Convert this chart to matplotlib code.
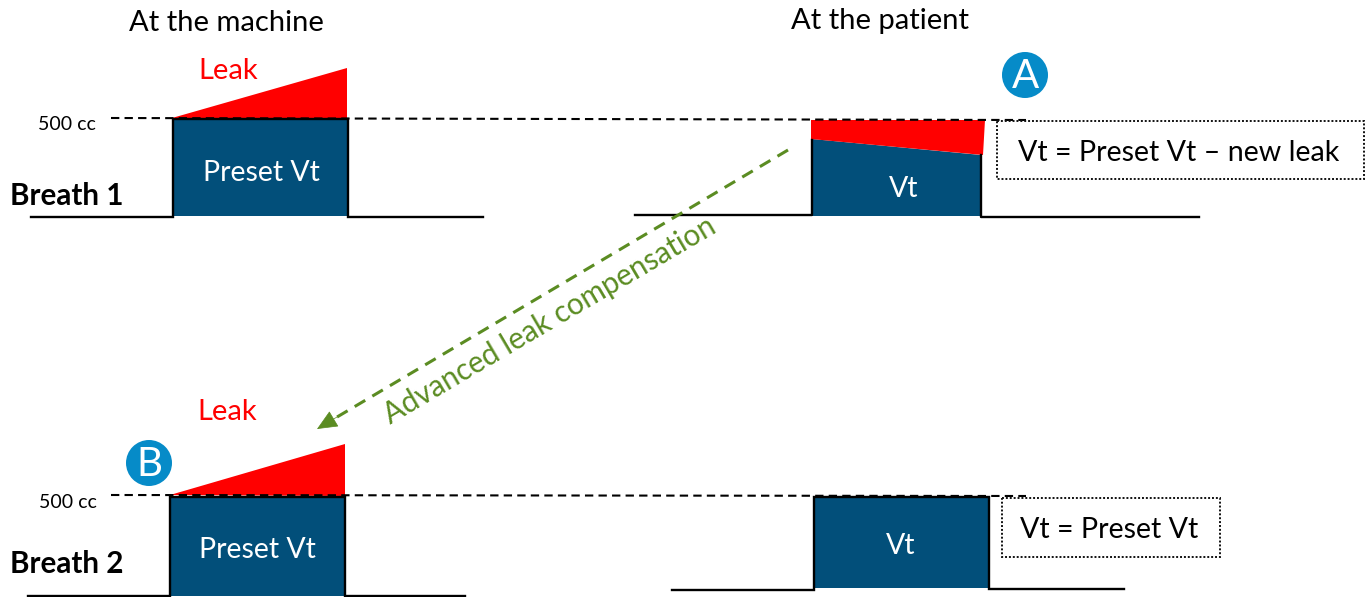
import matplotlib
matplotlib.use("Agg")
import matplotlib.pyplot as plt
from matplotlib.patches import Polygon, Rectangle, Circle

plt.rcParams['font.family'] = ['Lato', 'DejaVu Sans']

BLUE = '#024F7A'
RED = '#FF0000'
GREEN = '#5B8C22'
CIRC = '#068BC8'

# Square waveforms: (x, y) vertices of the baseline/pulse trace
trace_m1_x = [31, 173, 173, 348, 348, 483]
trace_m1_y = [217, 217, 119, 119, 217, 217]
trace_p1_x = [635, 812, 812, 981, 981, 1199]
trace_p1_y = [215, 215, 140, 155, 217, 217]
trace_m2_x = [28, 170, 170, 345, 345, 465]
trace_m2_y = [596, 596, 497, 497, 596, 596]
trace_p2_x = [672, 814, 814, 989, 989, 1124]
trace_p2_y = [590, 590, 497, 497, 589, 589]

# Filled blocks
block_m1 = [(173, 119), (348, 119), (348, 216), (173, 216)]
block_p1 = [(812, 139), (981, 155), (981, 216), (812, 216)]
block_m2 = [(170, 497), (345, 497), (345, 596), (170, 596)]
block_p2 = [(814, 497), (989, 497), (989, 588), (814, 588)]

# Leak wedges
leak_m1 = [(172, 118), (347, 68), (347, 119)]
leak_p1 = [(811, 120), (985, 120), (983, 155), (811, 139)]
leak_m2 = [(170, 495), (345, 444), (345, 496)]

# Dashed reference lines
ref1_x = [111, 1026]
ref1_y = [118, 120]
ref2_x = [111, 1026]
ref2_y = [495, 496]

# Dotted annotation boxes (x, y, w, h)
box_a = (997, 121, 367, 58)
box_b = (1002, 498, 218, 59)

# Compensation arrow: dashed shaft and solid head
shaft_x = [788, 332]
shaft_y = [150, 420]
head_from = (342, 414)
head_to = (317, 429)

fig = plt.figure(figsize=(13.66, 5.97), dpi=100)
ax = fig.add_axes([0, 0, 1, 1])
ax.set_xlim(0, 1366)
ax.set_ylim(597, 0)
ax.axis('off')

for pts in (block_m1, block_p1, block_m2, block_p2):
    ax.add_patch(Polygon(pts, closed=True, fc=BLUE, ec='none', zorder=2))
for pts in (leak_m1, leak_p1, leak_m2):
    ax.add_patch(Polygon(pts, closed=True, fc=RED, ec='none', zorder=3))

for xs, ys in ((trace_m1_x, trace_m1_y), (trace_m2_x, trace_m2_y), (trace_p2_x, trace_p2_y)):
    ax.plot(xs, ys, color='black', lw=1.7, zorder=4, solid_joinstyle='miter')
# patient breath 1: only the baseline and the pulse sides carry a line
ax.plot(trace_p1_x[:3], trace_p1_y[:3], color='black', lw=1.7, zorder=4)
ax.plot(trace_p1_x[3:], trace_p1_y[3:], color='black', lw=1.7, zorder=4)

for xs, ys in ((ref1_x, ref1_y), (ref2_x, ref2_y)):
    ax.plot(xs, ys, color='black', lw=1.5, dashes=(4, 2.5), zorder=5)

for (x, y, w, h) in (box_a, box_b):
    ax.add_patch(Rectangle((x, y), w, h, fc='white', ec='#111111', lw=1.4,
                           ls=(0, (1, 1)), zorder=6))

# Advanced leak compensation arrow
ax.plot(shaft_x, shaft_y, color=GREEN, lw=2.2, dashes=(4, 2.7), zorder=5)
ax.annotate('', xy=head_to, xytext=head_from,
            arrowprops=dict(arrowstyle='-|>,head_length=0.95,head_width=0.42',
                            fc=GREEN, ec=GREEN, lw=0.5, shrinkA=0, shrinkB=0,
                            mutation_scale=14),
            zorder=5)
ax.text(550, 320, 'Advanced leak compensation', color=GREEN, fontsize=21.3,
        rotation=30.5, rotation_mode='anchor', ha='center', va='center')

# Labels
T = dict(ha='center', va='center', zorder=8)
ax.text(226, 23, 'At the machine', fontsize=21, color='black', **T)
ax.text(880, 21, 'At the patient', fontsize=21, color='black', **T)
ax.text(228, 71, 'Leak', fontsize=21, color=RED, **T)
ax.text(227, 412, 'Leak', fontsize=21, color=RED, **T)
ax.text(67, 125, '500 cc', fontsize=14, color='black', **T)
ax.text(68, 502, '500 cc', fontsize=14, color='black', **T)
ax.text(67, 196, 'Breath 1', fontsize=21.3, fontweight='bold', color='black', **T)
ax.text(67, 564, 'Breath 2', fontsize=21.3, fontweight='bold', color='black', **T)
ax.text(261, 173, 'Preset Vt', fontsize=20.5, color='white', **T)
ax.text(257, 550, 'Preset Vt', fontsize=20.5, color='white', **T)
ax.text(904, 189, 'Vt', fontsize=20.5, color='white', **T)
ax.text(901, 546, 'Vt', fontsize=20.5, color='white', **T)
ax.text(1179, 153, 'Vt = Preset Vt – new leak', fontsize=20.6, color='black', **T)
ax.text(1109, 530, 'Vt = Preset Vt', fontsize=20.6, color='black', **T)

# Letter badges
for cx, cy, letter in ((1025, 75, 'A'), (149, 463, 'B')):
    ax.add_patch(Circle((cx, cy), 23, fc=CIRC, ec='none', zorder=7))
    ax.text(cx, cy + 2, letter, fontsize=29, color='white', **T)

fig.savefig('out.png', dpi=100)
